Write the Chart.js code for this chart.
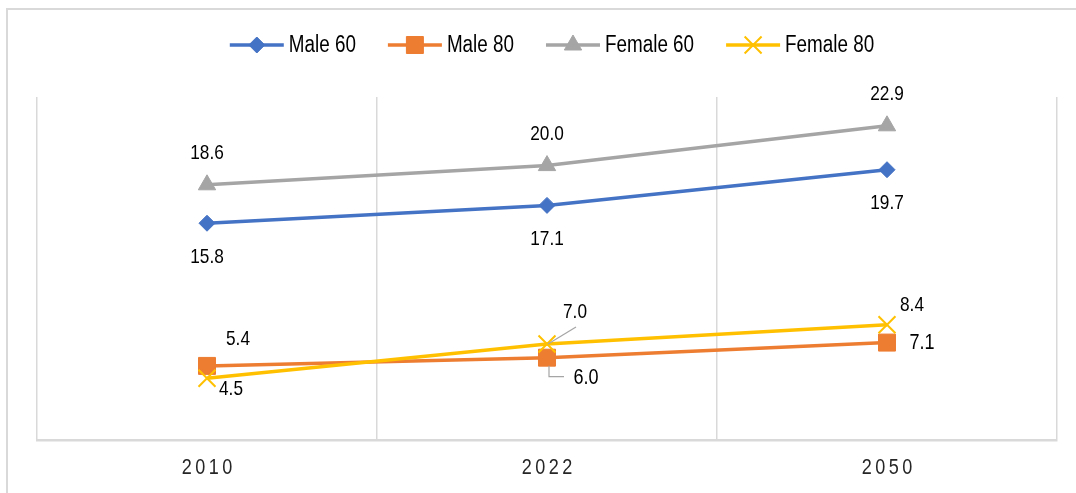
<!DOCTYPE html>
<html lang="en">
<head>
  <meta charset="UTF-8">
  <title>Life expectancy at 60 and 80</title>
  <script src="https://cdn.jsdelivr.net/npm/chart.js"></script>
  <style>
    html, body { margin: 0; padding: 0; background: #ffffff; }
  </style>
</head>
<body>
  <canvas id="grafico" width="1076" height="493"></canvas>

<script>
  // dados
  var anos = ['2010', '2022', '2050'];
  var male60 = [15.8, 17.1, 19.7];
  var male80 = [5.4, 6.0, 7.1];
  var female60 = [18.6, 20.0, 22.9];
  var female80 = [4.5, 7.0, 8.4];
  var yMin = 0;
  var yMax = 25;

  var FONTE = '"Liberation Sans", Arial, sans-serif';
  var ESTREITO = 0.82;   // fonte condensada (largura)
  var GRADE = '#d9d9d9';

  // deslocamento de cada rotulo em relacao ao ponto (por serie)
  var rotulos = [
    { dx: [0, 0, 0],    dy: [34, 34, 33],    tam: [21, 21, 21] },  // Male 60
    { dx: [31, 39, 35], dy: [-27, 20, 0],    tam: [21, 22, 22] },  // Male 80
    { dx: [0, 0, 0],    dy: [-32, -31, -32], tam: [21, 21, 21] },  // Female 60
    { dx: [24, 28, 25], dy: [11, -32, -20],  tam: [21, 21, 21] }   // Female 80
  ];

  // escreve texto "narrow" escalando so na horizontal
  function texto(ctx, txt, x, y, tam, alinhamento) {
    ctx.save();
    ctx.translate(x, y);
    ctx.scale(ESTREITO, 1);
    ctx.font = tam + 'px ' + FONTE;
    ctx.textAlign = alinhamento;
    ctx.textBaseline = 'middle';
    ctx.fillText(txt, 0, 0);
    ctx.restore();
  }

  function larguraTexto(ctx, txt, tam) {
    ctx.save();
    ctx.font = tam + 'px ' + FONTE;
    var w = ctx.measureText(txt).width * ESTREITO;
    ctx.restore();
    return w;
  }

  // moldura externa do grafico
  var moldura = {
    id: 'moldura',
    beforeDraw: function (chart) {
      var ctx = chart.ctx;
      ctx.save();
      ctx.strokeStyle = GRADE;
      ctx.lineWidth = 2;
      ctx.strokeRect(7, 9, chart.width + 20, chart.height + 20);
      ctx.restore();
    }
  };

  // anos do eixo x, letras espacadas
  var eixoX = {
    id: 'eixoX',
    afterDraw: function (chart) {
      var ctx = chart.ctx;
      var escala = chart.scales.x;
      var tam = 22, passo = 3.5;
      ctx.save();
      ctx.fillStyle = '#262626';
      anos.forEach(function (ano, i) {
        var cx = escala.getPixelForTick(i);
        var larguras = ano.split('').map(function (c) { return larguraTexto(ctx, c, tam); });
        var total = larguras.reduce(function (a, b) { return a + b; }, 0) + passo * (ano.length - 1);
        var x = cx - total / 2;
        ano.split('').forEach(function (c, k) {
          texto(ctx, c, x, 468, tam, 'left');
          x += larguras[k] + passo;
        });
      });
      ctx.restore();
    }
  };

  // legenda com linha + marcador
  var legenda = {
    id: 'legenda',
    afterDraw: function (chart) {
      var ctx = chart.ctx;
      var sets = chart.data.datasets;
      var linha = 54, espaco = 5, entre = 32, tam = 23;
      var total = 0;
      sets.forEach(function (ds, i) {
        total += linha + espaco + larguraTexto(ctx, ds.label, tam) + (i < sets.length - 1 ? entre : 0);
      });
      var x = 552 - total / 2;
      var y = 45;
      ctx.save();
      sets.forEach(function (ds) {
        ctx.strokeStyle = ds.borderColor;
        ctx.lineWidth = 3.5;
        ctx.beginPath();
        ctx.moveTo(x, y);
        ctx.lineTo(x + linha, y);
        ctx.stroke();
        ctx.fillStyle = ds.pointBackgroundColor;
        ctx.strokeStyle = ds.pointBorderColor;
        ctx.lineWidth = ds.pointBorderWidth;
        Chart.helpers.drawPoint(ctx, {
          pointStyle: ds.pointStyle,
          radius: ds.pointRadius,
          borderWidth: ds.pointBorderWidth,
          rotation: 0
        }, x + linha / 2, y);
        ctx.fillStyle = '#000000';
        texto(ctx, ds.label, x + linha + espaco, y + 1, tam, 'left');
        x += linha + espaco + larguraTexto(ctx, ds.label, tam) + entre;
      });
      ctx.restore();
    }
  };

  // rotulos de valor
  var valores = {
    id: 'valores',
    afterDatasetsDraw: function (chart) {
      var ctx = chart.ctx;
      ctx.save();
      ctx.fillStyle = '#000000';
      chart.data.datasets.forEach(function (ds, d) {
        var meta = chart.getDatasetMeta(d);
        meta.data.forEach(function (pt, i) {
          var cfg = rotulos[d];
          texto(ctx, ds.data[i].toFixed(1), pt.x + cfg.dx[i], pt.y + cfg.dy[i], cfg.tam[i], 'center');
        });
      });

      // linhas de chamada do ponto 2022
      ctx.strokeStyle = '#a5a5a5';
      ctx.lineWidth = 1.2;
      var pM = chart.getDatasetMeta(1).data[1];
      ctx.beginPath();
      ctx.moveTo(pM.x + 2, pM.y + 8);
      ctx.lineTo(pM.x + 2, pM.y + 19);
      ctx.lineTo(pM.x + 17, pM.y + 19);
      ctx.stroke();
      var pF = chart.getDatasetMeta(3).data[1];
      ctx.beginPath();
      ctx.moveTo(pF.x + 1, pF.y);
      ctx.lineTo(pF.x + 29, pF.y - 17);
      ctx.stroke();
      ctx.restore();
    }
  };

  function serie(nome, dados, cor, estilo, raio, ordem) {
    return {
      label: nome,
      data: dados,
      borderColor: cor,
      backgroundColor: cor,
      borderWidth: 3.5,
      pointStyle: estilo,
      pointRadius: raio,
      pointHoverRadius: raio,
      pointBackgroundColor: cor,
      pointBorderColor: cor,
      pointBorderWidth: estilo === 'crossRot' ? 2 : 1,
      tension: 0,
      order: ordem
    };
  }

  var ctx = document.getElementById('grafico').getContext('2d');

  new Chart(ctx, {
    type: 'line',
    data: {
      labels: anos,
      datasets: [
        serie('Male 60', male60, '#4472C4', 'rectRot', 8, 4),
        serie('Male 80', male80, '#ED7D31', 'rect', 12, 3),
        serie('Female 60', female60, '#A5A5A5', 'triangle', 10, 2),
        serie('Female 80', female80, '#FFC000', 'crossRot', 12, 1)
      ]
    },
    options: {
      responsive: false,
      animation: false,
      layout: {
        padding: { left: 37, right: 19, top: 97, bottom: 0 }
      },
      plugins: {
        legend: { display: false },
        tooltip: { enabled: false }
      },
      scales: {
        x: {
          offset: true,
          grid: {
            offset: true,
            color: GRADE,
            lineWidth: 1.5,
            drawTicks: false
          },
          border: { display: true, color: GRADE, width: 2.5 },
          ticks: { display: false },
          afterFit: function (scale) {
            scale.height = 53;
          }
        },
        y: {
          display: false,
          min: yMin,
          max: yMax
        }
      }
    },
    plugins: [moldura, eixoX, legenda, valores]
  });
</script>
</body>
</html>
